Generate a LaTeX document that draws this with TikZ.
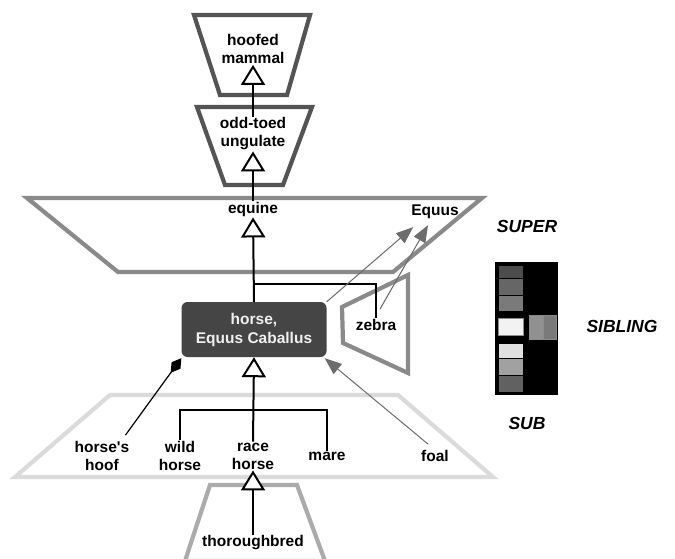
\documentclass[tikz,border=0pt]{standalone}
\usepackage{fontspec}
\setmainfont{Liberation Sans}
\usetikzlibrary{arrows.meta,calc}
\begin{document}
\begin{tikzpicture}[x=1pt,y=-1pt,
  lbl/.style={font=\fontsize{15.5}{18}\selectfont\bfseries, align=center, inner sep=1pt},
  tag/.style={font=\fontsize{17.5}{20}\selectfont\bfseries\itshape, inner sep=1pt},
  isa/.style={draw=black, line width=2pt, -{Triangle[length=20pt,width=24pt,fill=white]}},
  assoc/.style={draw=gray!85!black, line width=1pt, -{Triangle[length=17pt,width=13pt,fill=gray!85!black]}},
  tz/.style={line width=4.2pt, line join=miter, fill=none},
  cell/.style={draw=black, line width=0.8pt}
]
\useasboundingbox (0,0) rectangle (675,559);
\fill[white] (0,0) rectangle (675,559);

% background trapezoids
\draw[tz, draw=black!67] (194,15) -- (310,15) -- (287,95) -- (220,95) -- cycle;
\draw[tz, draw=black!67] (197,107) -- (312,107) -- (283,185) -- (225,185) -- cycle;
\draw[tz, draw=black!46] (27,198) -- (482,198) -- (393,272) -- (118,272) -- cycle;
\draw[tz, draw=black!46] (408,275) -- (342,307) -- (343,343) -- (408,373) -- cycle;
\draw[tz, draw=black!14] (110,395) -- (398,395) -- (493,477) -- (15,477) -- cycle;
\draw[tz, draw=black!33] (210,485) -- (297,485) -- (325,561) -- (185,561) -- cycle;

% nodes
\node[lbl] (hoofed) at (253,49) {hoofed\\mammal};
\node[lbl] (oddtoed) at (253,134) {odd-toed\\ungulate};
\node[lbl] (equine) at (253,209) {equine};
\node[lbl] (equus) at (435,212) {Equus};
\node[lbl, fill=black!73, text=black!6, rounded corners=6pt, minimum width=145pt,
      minimum height=55pt, font=\fontsize{15.5}{19}\selectfont\bfseries] (horse) at (254,329.5) {horse,\\Equus Caballus};
\node[lbl] (zebra) at (376,325) {zebra};
\node[lbl] (hoof) at (102,456) {horse\textquotesingle s\\hoof};
\node[lbl] (wild) at (180,456) {wild\\horse};
\node[lbl] (race) at (253,456) {race\\horse};
\node[lbl] (mare) at (327,456) {mare};
\node[lbl] (foal) at (435,456) {foal};
\node[lbl] (thor) at (253,543) {thoroughbred};

\coordinate (j1) at (253,284);
\coordinate (j2) at (253,410);

% is-a connectors
\draw[isa] (oddtoed.north) -- (hoofed.south);
\draw[isa] (equine.north) -- (oddtoed.south);
\draw[isa] (horse.north) -- (equine.south);
\draw[line width=2pt] (zebra.north) |- (j1);
\draw[isa] (race.north) -- (horse.south);
\draw[line width=2pt] (wild.north) |- (j2) -| (mare.north);
\draw[isa] (thor.north) -- (race.south);

% other relations
\draw[assoc] (horse.north east) -- ($(equus.south west)+(3,7)$);
\draw[assoc] ($(zebra.north)+(4,-9)$) -- ($(equus.south)+(-7,5)$);
\draw[assoc] ($(foal.north)+(-7,-5)$) -- ($(horse.south east)+(-2,1)$);
\draw[line width=1.2pt, -{Diamond[length=18pt,width=11pt,fill=black]}] ($(hoof.north east)+(-5,-5)$) -- ($(horse.south west)+(0,1)$);

% matrix legend
\fill[black] (495,262) rectangle (558,395);
\fill[cell, fill=black!70] (498,265) rectangle (523,278);
\fill[cell, fill=black!60] (498,278) rectangle (523,295);
\fill[cell, fill=black!52] (498,295) rectangle (523,311);
\draw[cell, draw=black!45, fill=black!5] (498,318) rectangle (523,335);
\fill[cell, fill=black!12] (498,343) rectangle (523,358);
\fill[cell, fill=black!37] (498,358) rectangle (523,375);
\fill[cell, fill=black!62] (498,375) rectangle (523,392);
\draw[draw=black!45, fill=black!43] (529,315) rectangle (543,339);
\draw[draw=black!45, fill=black!52] (543,315) rectangle (556,339);

\node[tag] (super) at (527,226) {SUPER};
\node[tag] (sibling) at (622,326) {SIBLING};
\node[tag] (sub) at (527,423) {SUB};
\end{tikzpicture}
\end{document}
